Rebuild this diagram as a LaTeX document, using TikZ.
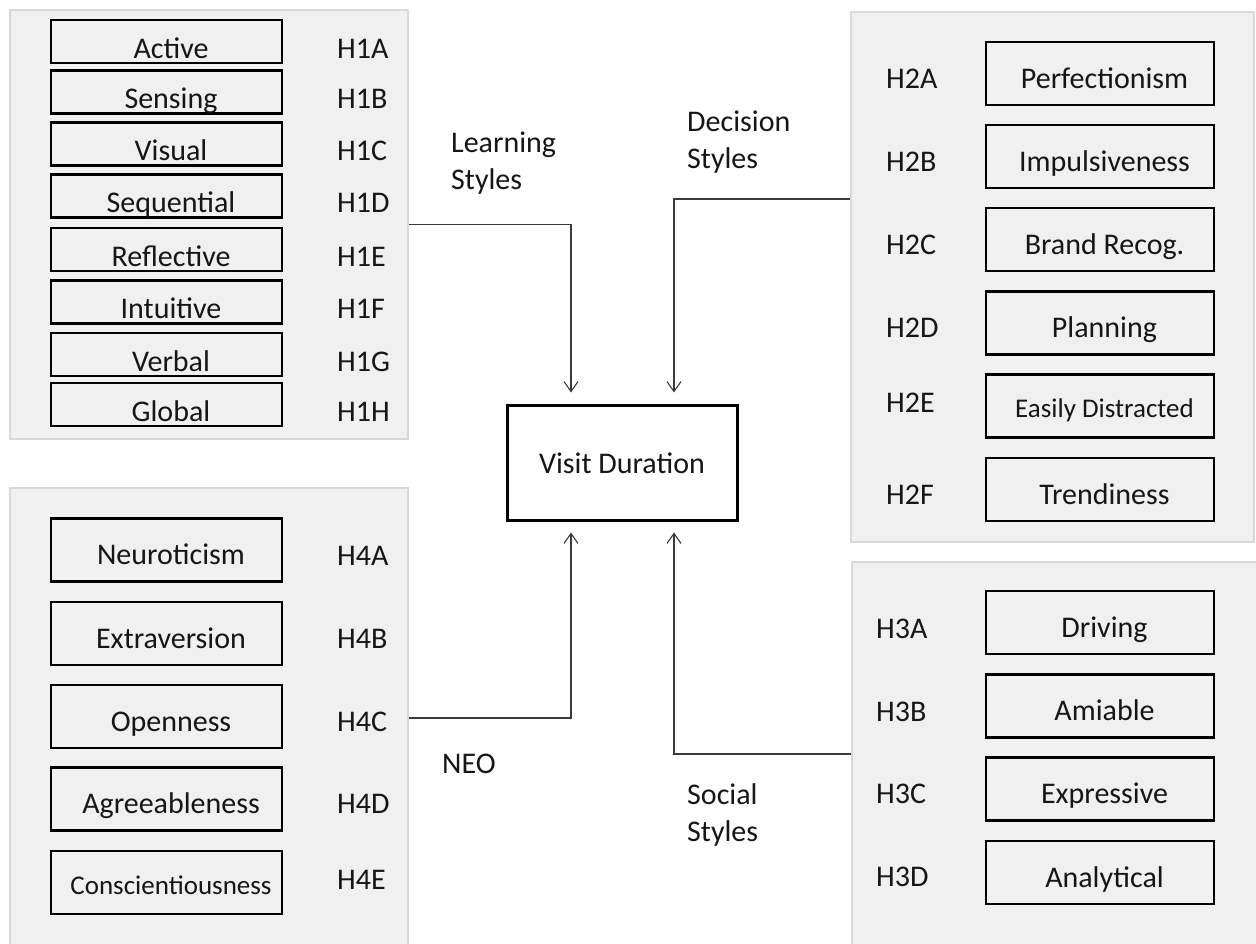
\documentclass[tikz,border=0pt]{standalone}
\usepackage{fontspec}
\setmainfont{Carlito}
\usetikzlibrary{arrows.meta}

\definecolor{panelfill}{HTML}{F0F0F0}
\definecolor{panelrule}{HTML}{D9D9D9}
\definecolor{wire}{HTML}{3A3A3A}
\definecolor{ink}{HTML}{161616}

\begin{document}
\begin{tikzpicture}[x=1pt,y=-1pt,
  every node/.style={font=\fontsize{30pt}{37pt}\selectfont, text=ink},
  panel/.style={draw=panelrule, line width=2pt, fill=panelfill, anchor=north west, inner sep=0pt},
  itembox/.style={draw=black, line width=2.5pt, inner xsep=2pt, inner ysep=0pt,
                  text height=29pt, text depth=0pt,
                  execute at begin node={\hspace*{9pt}}},
  leftbox/.style={itembox, minimum width=231pt, minimum height=63pt},
  thinbox/.style={itembox, minimum width=231pt, minimum height=43pt, text height=33pt},
  rightbox/.style={itembox, minimum width=228pt, minimum height=63pt},
  smalltext/.style={font=\fontsize{27pt}{33pt}\selectfont},
  hyplabel/.style={anchor=base west, inner sep=0pt},
  grouplabel/.style={anchor=base west, inner sep=0pt},
  conn/.style={draw=wire, line width=1.1pt, -{Straight Barb[length=10pt,width=14pt]}, shorten >=11pt},
  outcome/.style={draw=black, line width=3pt, minimum width=230pt, minimum height=115pt,
                  inner sep=0pt, text height=21pt, text depth=0pt}
]
\clip (0,0) rectangle (1256,943);

% grey group panels
\node[panel, minimum width=398pt, minimum height=429pt] (tl) at (9,9) {};
\node[panel, minimum width=403pt, minimum height=530pt] (tr) at (850,11) {};
\node[panel, minimum width=398pt, minimum height=460pt] (bl) at (9,487) {};
\node[panel, minimum width=411pt, minimum height=384pt] (br) at (851,561) {};

% learning styles
\node[thinbox] (active)     at (166.5,41.5)  {Active};
\node[thinbox] (sensing)    at (166.5,92)    {Sensing};
\node[thinbox] (visual)     at (166.5,144)   {Visual};
\node[thinbox] (sequential) at (166.5,196)   {Sequential};
\node[thinbox] (reflective) at (166.5,249.5) {Reflective};
\node[thinbox] (intuitive)  at (166.5,302)   {Intuitive};
\node[thinbox] (verbal)     at (166.5,354.5) {Verbal};
\node[thinbox] (global)     at (166.5,404.5) {Global};
\node[hyplabel] (h1a) at (337,58)  {H1A};
\node[hyplabel] (h1b) at (337,108.5) {H1B};
\node[hyplabel] (h1c) at (337,160.5) {H1C};
\node[hyplabel] (h1d) at (337,212.5) {H1D};
\node[hyplabel] (h1e) at (337,266) {H1E};
\node[hyplabel] (h1f) at (337,318.5) {H1F};
\node[hyplabel] (h1g) at (337,371) {H1G};
\node[hyplabel] (h1h) at (337,421) {H1H};

% decision styles
\node[rightbox] (perfect)  at (1100,73.5)  {Perfectionism};
\node[rightbox] (impulse)  at (1100,156.5) {Impulsiveness};
\node[rightbox] (brand)    at (1100,239.5) {Brand Recog.};
\node[rightbox] (planning) at (1100,323)   {Planning};
\node[rightbox, smalltext, text height=23pt] (distract) at (1100,406) {Easily Distracted};
\node[rightbox] (trendy)   at (1100,489.5) {Trendiness};
\node[hyplabel] (h2a) at (886,88.5)  {H2A};
\node[hyplabel] (h2b) at (886,171)   {H2B};
\node[hyplabel] (h2c) at (886,254)   {H2C};
\node[hyplabel] (h2d) at (886,337.5) {H2D};
\node[hyplabel] (h2e) at (886,412)   {H2E};
\node[hyplabel] (h2f) at (886,504)   {H2F};

% NEO personality traits
\node[leftbox] (neuro)  at (166.5,550)   {Neuroticism};
\node[leftbox] (extra)  at (166.5,633.5) {Extraversion};
\node[leftbox] (open)   at (166.5,716.5) {Openness};
\node[leftbox] (agree)  at (166.5,799)   {Agreeableness};
\node[leftbox, smalltext, text height=23pt] (consc) at (166.5,882.5) {Conscientiousness};
\node[hyplabel] (h4a) at (337,565)   {H4A};
\node[hyplabel] (h4b) at (337,648)   {H4B};
\node[hyplabel] (h4c) at (337,731)   {H4C};
\node[hyplabel] (h4d) at (337,813.5) {H4D};
\node[hyplabel] (h4e) at (337,889)   {H4E};

% social styles
\node[rightbox] (driving)    at (1100,622.5) {Driving};
\node[rightbox] (amiable)    at (1100,706)   {Amiable};
\node[rightbox] (expressive) at (1100,789)   {Expressive};
\node[rightbox] (analytical) at (1100,872.5) {Analytical};
\node[hyplabel] (h3a) at (876,638)   {H3A};
\node[hyplabel] (h3b) at (876,721)   {H3B};
\node[hyplabel] (h3c) at (876,803.5) {H3C};
\node[hyplabel] (h3d) at (876,886.5) {H3D};

% outcome
\node[outcome] (vd) at (622,462.5) {Visit Duration};

% group captions
\node[grouplabel] (learncap) at (451,152)
  {\begin{tabular}[t]{@{}l@{}}Learning\\Styles\end{tabular}};
\node[grouplabel] (decicap) at (687,131)
  {\begin{tabular}[t]{@{}l@{}}Decision\\Styles\end{tabular}};
\node[grouplabel] (neocap) at (442,773) {NEO};
\node[grouplabel] (socialcap) at (687,804)
  {\begin{tabular}[t]{@{}l@{}}Social\\Styles\end{tabular}};

% connectors
\draw[conn] (tl.east) -| ([xshift=-51pt]vd.north);
\draw[conn] ([yshift=78pt]tr.west) -| ([xshift=52pt]vd.north);
\draw[conn] (bl.east) -| ([xshift=-51pt]vd.south);
\draw[conn] (br.west) -| ([xshift=52pt]vd.south);
\end{tikzpicture}
\end{document}
